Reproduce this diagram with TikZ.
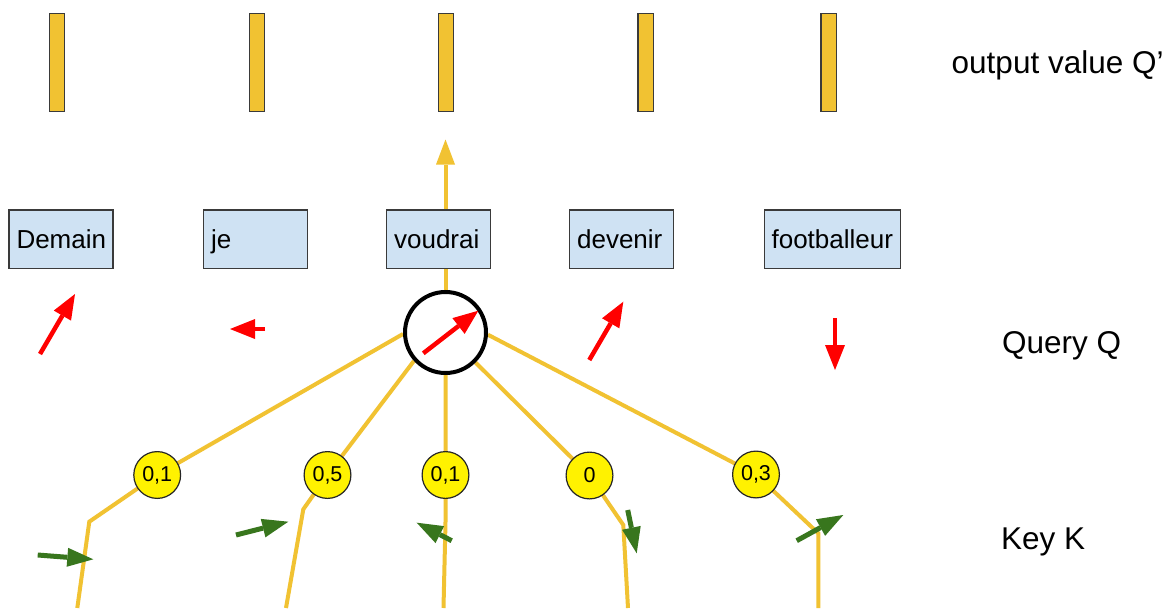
\documentclass[tikz,border=0pt]{standalone}
\usepackage{fontspec}
\setmainfont{Liberation Sans}
\usetikzlibrary{arrows.meta}
\definecolor{goldline}{HTML}{F1C232}
\definecolor{wordfill}{HTML}{CFE2F3}
\definecolor{edgegray}{HTML}{3A3A3A}
\definecolor{vecred}{HTML}{FF0000}
\definecolor{vecgreen}{HTML}{38761D}
\pgfdeclarelayer{back}
\pgfdeclarelayer{paper}
\pgfsetlayers{paper,back,main}

\begin{document}
\begin{tikzpicture}[x=1pt,y=-1pt,
  bar/.style={draw=edgegray, line width=1.2pt, fill=goldline, minimum width=15.3pt,
    minimum height=97.8pt, inner sep=0pt},
  word/.style={draw=edgegray, line width=1.2pt, fill=wordfill, anchor=north west,
    minimum height=58.5pt, inner xsep=7.5pt, inner ysep=0pt, text height=18.6pt,
    text depth=0pt, align=left, text width=89pt, font=\fontsize{26}{30}\selectfont},
  weight/.style={circle, draw=black!85, line width=1.2pt, fill=yellow,
    minimum size=46.8pt, inner sep=0pt, font=\fontsize{21.5}{24}\selectfont},
  query/.style={circle, draw=black, line width=4pt, fill=white, minimum size=81pt,
    inner sep=0pt},
  link/.style={draw=goldline, line width=4pt},
  side/.style={anchor=base west, inner sep=0pt, font=\fontsize{31.5}{36}\selectfont},
  redvec/.style={draw=vecred, line width=4.5pt,
    -{Triangle[length=25pt,width=20pt,line width=0pt]}},
  greenvec/.style={draw=vecgreen, line width=5pt,
    -{Triangle[length=26pt,width=19pt,line width=0pt]}},
]
\begin{pgfonlayer}{paper}
  \useasboundingbox[fill=white] (0,0) rectangle (1176,605);
\end{pgfonlayer}

% output value bars
\node[bar] (v1) at (56.9,62.2) {};
\node[bar] (v2) at (257,62.2) {};
\node[bar] (v3) at (446,62.2) {};
\node[bar] (v4) at (645.7,62.2) {};
\node[bar] (v5) at (828.7,62.2) {};

% query circle
\node[query] (q) at (445.5,332.5) {};

% words
\node[word] (d1) at (8.4,209.3) {Demain};
\node[word] (d2) at (203,209.3) {je};
\node[word] (d3) at (386,209.3) {voudrai};
\node[word] (d4) at (569,209.3) {devenir};
\node[word, text width=121.5pt] (d5) at (763.5,209.3) {footballeur};

% attention weights
\node[weight] (w1) at (157.2,475) {0,1};
\node[weight] (w2) at (327.5,475) {0,5};
\node[weight] (w3) at (445.5,475) {0,1};
\node[weight] (w4) at (589.5,475.5) {0};
\node[weight] (w5) at (756,474.5) {0,3};

% bends and loose ends of the key lines
\coordinate (vt) at (445.5,139.5);
\coordinate (b1) at (89.3,521.7);  \coordinate (e1) at (77.3,608);
\coordinate (b2) at (303.3,509.3); \coordinate (e2) at (286,608);
\coordinate (b3) at (445.5,522);   \coordinate (e3) at (443.5,608);
\coordinate (b4) at (623.3,525);   \coordinate (e4) at (628,608);
\coordinate (b5) at (818.3,533.3); \coordinate (e5) at (818.3,608);

\begin{pgfonlayer}{back}
  \draw[link, -{Triangle[length=25pt,width=19pt,line width=0pt]}] (q) -- (vt);
  \draw[link] (q.182) -- (w1.center) -- (b1) -- (e1);
  \draw[link] (q.222) -- (w2.center) -- (b2) -- (e2);
  \draw[link] (q.270) -- (w3.center) -- (b3) -- (e3);
  \draw[link] (q.315) -- (w4.center) -- (b4) -- (e4);
  \draw[link] (q.357) -- (w5.center) -- (b5) -- (e5);
\end{pgfonlayer}

% query vectors
\draw[redvec] (40,354) -- (75,294);
\draw[redvec] (265,329) -- (230,329);
\draw[redvec] (423.3,353.3) -- (478.3,310.7);
\draw[redvec] (589.3,360) -- (623.3,301.7);
\draw[redvec] (835,318.3) -- (835,370);

% key vectors
\draw[greenvec] (37.7,555) -- (93.3,559.3);
\draw[greenvec] (236,535) -- (288.3,521.7);
\draw[greenvec] (451.7,540.7) -- (416.7,522.7);
\draw[greenvec] (627.7,510) -- (636.7,553.3);
\draw[greenvec] (796.7,540.7) -- (843.3,515);

% row labels
\node[side] (lout) at (951.5,73.3) {output value Q'};
\node[side] (lq) at (1002,353.3) {Query Q};
\node[side] (lk) at (1001,549) {Key K};
\end{tikzpicture}
\end{document}
